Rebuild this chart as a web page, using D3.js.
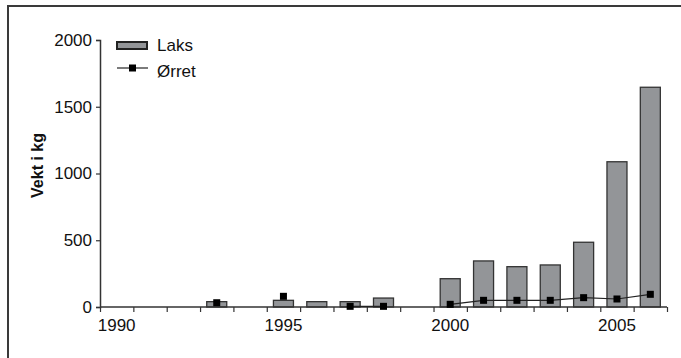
<!DOCTYPE html>
<html>
<head>
<meta charset="utf-8">
<script src="https://cdn.jsdelivr.net/npm/d3@7"></script>
<style>
  body { margin: 0; background: #fff; }
  svg { display: block; font-family: "Liberation Sans", Arial, sans-serif; }
</style>
</head>
<body>
<div id="app"></div>
<script>
const years = d3.range(1990, 2007)
// null = no catch registered
const laks  = [null, null, null, 40, null, 50, 40, 40, 67, null, 212, 345, 302, 315, 485, 1088, 1646]
const orret = [null, null, null, 32, null, 80, null, 5, 5, null, 20, 50, 50, 50, 70, 60, 95]
const yTicks = [0, 500, 1000, 1500, 2000]
const xLabels = [1990, 1995, 2000, 2005]

const width = 681, height = 358
const margin = {left: 100, right: 14, top: 40, bottom: 51}
const font = '"Liberation Sans", Arial, sans-serif'
const fs = 17

const svg = d3.select('#app').append('svg')
    .attr('width', width)
    .attr('height', height)

// outer frame (only left and top edges visible)
svg.append('path')
    .attr('d', `M8,${height} L8,6 L${width},6`)
    .attr('fill', 'none')
    .attr('stroke', '#3a3a3a')
    .attr('stroke-width', 2)

const x = d3.scaleBand().domain(years).range([margin.left, width - margin.right])
const xEdge = d3.scaleLinear().domain([1990, 2007]).range([margin.left, width - margin.right])
const y = d3.scaleLinear().domain([0, 2000]).range([height - margin.bottom, margin.top])

const barW = x.bandwidth() * 0.6
const data = years.map((yr, i) => ({year: yr, laks: laks[i], orret: orret[i]}))

// bars
svg.append('g').selectAll('rect')
    .data(data.filter(d => d.laks != null))
    .enter().append('rect')
    .attr('x', d => x(d.year) + (x.bandwidth() - barW) / 2)
    .attr('y', d => y(d.laks))
    .attr('width', barW)
    .attr('height', d => y(0) - y(d.laks))
    .attr('fill', '#939598')
    .attr('stroke', '#333')
    .attr('stroke-width', 1.3)

// y axis
const yAxis = svg.append('g')
    .attr('transform', `translate(${margin.left},0)`)
    .call(d3.axisLeft(y).tickValues(yTicks).tickSize(4).tickPadding(4).tickFormat(d3.format('d')))
yAxis.attr('font-family', font).attr('font-size', fs)
yAxis.select('.domain').attr('stroke', '#333').attr('stroke-width', 1.5)
yAxis.selectAll('.tick line').attr('stroke', '#333').attr('stroke-width', 1.2)
yAxis.selectAll('text').attr('fill', '#111')

// x axis: ticks between categories
const xAxis = svg.append('g')
    .attr('transform', `translate(0,${y(0)})`)
    .call(d3.axisBottom(xEdge).tickValues(d3.range(1990, 2008)).tickSize(5).tickFormat(''))
xAxis.select('.domain').attr('stroke', '#333').attr('stroke-width', 1.5)
    .attr('d', `M${margin.left},0H${width - margin.right}`)
xAxis.selectAll('.tick line').attr('stroke', '#333').attr('stroke-width', 1.2)

svg.append('g').selectAll('text')
    .data(xLabels)
    .enter().append('text')
    .attr('x', d => x(d) + x.bandwidth() / 2)
    .attr('y', y(0) + 24)
    .attr('text-anchor', 'middle')
    .attr('font-size', fs)
    .attr('fill', '#111')
    .text(d => d)

// ørret line + markers
const line = d3.line()
    .defined(d => d.orret != null)
    .x(d => x(d.year) + x.bandwidth() / 2)
    .y(d => y(d.orret))
svg.append('path')
    .datum(data)
    .attr('d', line)
    .attr('fill', 'none')
    .attr('stroke', '#222')
    .attr('stroke-width', 1.2)

const ms = 7
svg.append('g').selectAll('rect')
    .data(data.filter(d => d.orret != null))
    .enter().append('rect')
    .attr('x', d => x(d.year) + x.bandwidth() / 2 - ms / 2)
    .attr('y', d => y(d.orret) - ms / 2)
    .attr('width', ms)
    .attr('height', ms)
    .attr('fill', '#000')

// y title
svg.append('text')
    .attr('transform', `translate(43,${(margin.top + y(0)) / 2 - 8}) rotate(-90)`)
    .attr('text-anchor', 'middle')
    .attr('font-size', 16)
    .attr('font-weight', 'bold')
    .attr('fill', '#111')
    .text('Vekt i kg')

// legend
const legend = svg.append('g').attr('transform', 'translate(117,42)')
legend.append('rect')
    .attr('x', 0).attr('y', 0).attr('width', 30).attr('height', 7)
    .attr('fill', '#939598').attr('stroke', '#222').attr('stroke-width', 2)
legend.append('text').attr('x', 40).attr('y', 9).attr('font-size', fs).attr('fill', '#111').text('Laks')
legend.append('line')
    .attr('x1', 0).attr('x2', 31).attr('y1', 26).attr('y2', 26)
    .attr('stroke', '#222').attr('stroke-width', 1.2)
legend.append('rect')
    .attr('x', 15.5 - ms / 2).attr('y', 26 - ms / 2).attr('width', ms).attr('height', ms).attr('fill', '#000')
legend.append('text').attr('x', 40).attr('y', 35).attr('font-size', fs).attr('fill', '#111').text('Ørret')
</script>
</body>
</html>
